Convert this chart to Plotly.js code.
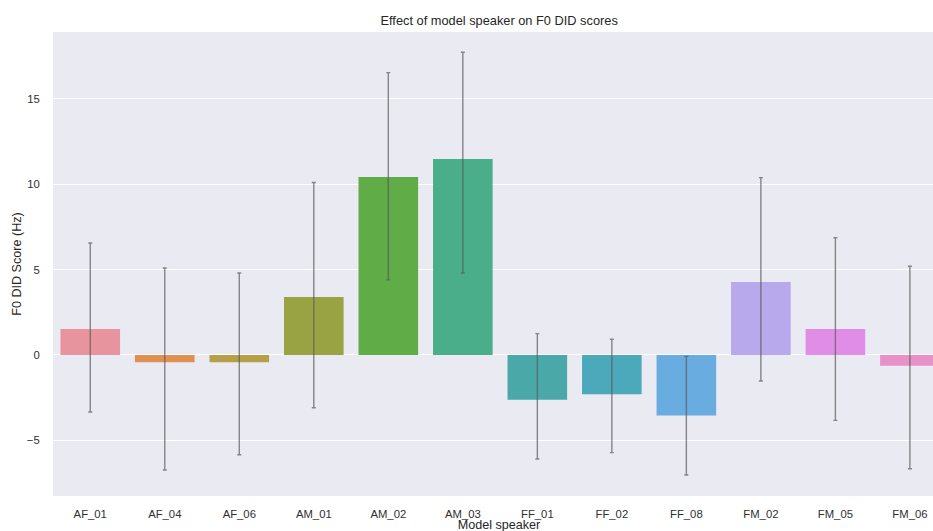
<!DOCTYPE html>
<html>
<head>
<meta charset="utf-8">
<script src="https://cdn.plot.ly/plotly-3.0.1.min.js"></script>
<style>html,body{margin:0;padding:0;background:#fff;}#chart{width:933px;height:531px;}</style>
</head>
<body>
<div id="chart"></div>
<script>
const speakers = ["AF_01","AF_04","AF_06","AM_01","AM_02","AM_03","FF_01","FF_02","FF_08","FM_02","FM_05","FM_06"];
const meanScores = [1.52, -0.43, -0.43, 3.40, 10.43, 11.48, -2.62, -2.30, -3.55, 4.28, 1.52, -0.63];
const ciUpper = [6.56, 5.10, 4.80, 10.10, 16.54, 17.73, 1.25, 0.92, -0.08, 10.39, 6.87, 5.20];
const ciLower = [-3.34, -6.74, -5.84, -3.09, 4.40, 4.80, -6.09, -5.72, -7.03, -1.52, -3.83, -6.66];
const barColors = ["#e8949f","#e0904f","#b79f48","#9aa344","#60ad47","#4bae8b","#4aa9a8","#4ca9bc","#69ace0","#b8a8ec","#e08de8","#e890c8"];

const errPlus = meanScores.map((m,i)=>ciUpper[i]-m);
const errMinus = meanScores.map((m,i)=>m-ciLower[i]);

const trace = {
  type: 'bar',
  x: speakers,
  y: meanScores,
  marker: {color: barColors, line: {width: 0}},
  error_y: {type: 'data', symmetric: false, array: errPlus, arrayminus: errMinus,
            color: 'rgba(90,90,90,0.7)', thickness: 1.4, width: 2},
  hoverinfo: 'x+y'
};

const layout = {
  width: 933, height: 531,
  margin: {l: 53, r: 0, t: 32, b: 35},
  paper_bgcolor: '#ffffff',
  plot_bgcolor: '#eaeaf2',
  bargap: 0.2,
  showlegend: false,
  font: {family: 'Liberation Sans, Arial, sans-serif', size: 11, color: '#262626'},
  title: {text: 'Effect of model speaker on F0 DID scores', x: 0.507, xref: 'paper', xanchor: 'center',
          y: 1, yref: 'paper', yanchor: 'bottom', pad: {b: 7},
          font: {size: 12.8, color: '#262626', family: 'Liberation Sans, Arial, sans-serif'}},
  xaxis: {
    type: 'category', range: [-0.5, 11.31],
    showgrid: false, zeroline: false, showline: false,
    ticks: 'outside', ticklen: 7, tickcolor: 'rgba(0,0,0,0)',
    tickfont: {size: 11.3, color: '#303030'},
    title: {text: 'Model speaker', standoff: 0, font: {size: 12.6, color: '#262626'}}
  },
  yaxis: {
    range: [-8.26, 18.92],
    tickvals: [-5, 0, 5, 10, 15],
    ticktext: ['\u22125', '0', '5', '10', '15'],
    showgrid: true, gridcolor: '#ffffff', gridwidth: 1,
    zeroline: false, showline: false,
    ticks: 'outside', ticklen: 10, tickcolor: 'rgba(0,0,0,0)',
    tickfont: {size: 11.3, color: '#303030'},
    title: {text: 'F0 DID Score (Hz)', standoff: 2, font: {size: 12.6, color: '#262626'}}
  }
};

Plotly.newPlot('chart', [trace], layout, {displayModeBar: false, staticPlot: true}).then(function(){
  // centre the x-axis title where the reference has it
  const xt = document.querySelector('.xtitle');
  if (xt) {
    xt.setAttribute('x', String(parseFloat(xt.getAttribute('x')) + 6));
    xt.setAttribute('y', String(parseFloat(xt.getAttribute('y')) + 1));
  }
});
</script>
</body>
</html>
